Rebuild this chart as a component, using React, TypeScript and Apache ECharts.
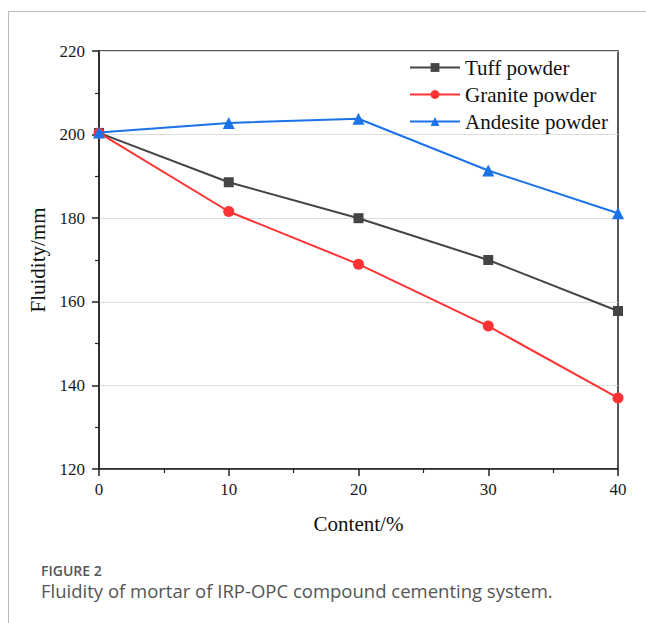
import React, { useEffect, useRef } from "react";
import * as echarts from "echarts";

const contents = [0, 10, 20, 30, 40];
const tuff = [200.4, 188.6, 180.0, 170.0, 157.8];
const granite = [200.4, 181.6, 169.0, 154.2, 137.0];
const andesite = [200.5, 202.8, 203.8, 191.4, 181.2];
const seriesNames = ["Tuff powder", "Granite powder", "Andesite powder"];
const figureLabel = "FIGURE 2";
const captionText = "Fluidity of mortar of IRP-OPC compound cementing system.";

const pair = (vals: number[]) => contents.map((c, i) => [c, vals[i]]);

export default function App() {
  const ref = useRef<HTMLDivElement>(null);
  useEffect(() => {
    if (!ref.current) return;
    const chart = echarts.init(ref.current, undefined, { renderer: "svg" });
    const serif = "'Liberation Serif', 'Times New Roman', serif";
    const axisCommon = {
      axisLine: { show: true, lineStyle: { color: "#222", width: 1.5 } },
      axisTick: { show: true, inside: false, length: 7, lineStyle: { color: "#222", width: 1.5 } },
      minorTick: { show: true, splitNumber: 2, length: 4, lineStyle: { color: "#222", width: 1.2 } },
      axisLabel: { fontFamily: serif, fontSize: 17, color: "#1a1a1a", margin: 14 },
    };
    chart.setOption({
      animation: false,
      backgroundColor: "#fff",
      grid: {
        left: 99,
        right: 28,
        top: 51,
        bottom: 154,
        show: true,
        borderColor: "#222",
        borderWidth: 1.5,
      },
      legend: {
        orient: "vertical",
        left: 404,
        top: 52,
        itemWidth: 50,
        itemHeight: 11,
        itemGap: 6,
        textStyle: { fontFamily: serif, fontSize: 21, color: "#111" },
        data: seriesNames,
      },
      xAxis: {
        type: "value",
        min: 0,
        max: 40,
        interval: 10,
        name: "Content/%",
        nameLocation: "middle",
        nameGap: 44,
        nameTextStyle: { fontFamily: serif, fontSize: 21, color: "#111" },
        ...axisCommon,
        axisLabel: { ...axisCommon.axisLabel, margin: 12 },
        splitLine: { show: false },
      },
      yAxis: {
        type: "value",
        min: 120,
        max: 220,
        interval: 20,
        name: "Fluidity/mm",
        nameLocation: "middle",
        nameGap: 44,
        nameTextStyle: { fontFamily: serif, fontSize: 21, color: "#111" },
        ...axisCommon,
        splitLine: { show: true, lineStyle: { color: "#dcdcdc", width: 1 } },
      },
      series: [
        {
          name: seriesNames[0],
          type: "line",
          data: pair(tuff),
          symbol: "rect",
          symbolSize: 10,
          itemStyle: { color: "#444444" },
          lineStyle: { color: "#444444", width: 2 },
          z: 3,
        },
        {
          name: seriesNames[1],
          type: "line",
          data: pair(granite),
          symbol: "circle",
          symbolSize: 11,
          itemStyle: { color: "#ff3333" },
          lineStyle: { color: "#ff3333", width: 2 },
          z: 4,
        },
        {
          name: seriesNames[2],
          type: "line",
          data: pair(andesite),
          symbol: "triangle",
          symbolSize: 12,
          itemStyle: { color: "#1a73e8" },
          lineStyle: { color: "#1a73e8", width: 2 },
          z: 5,
        },
      ],
      graphic: [
        {
          type: "line",
          shape: { x1: 8, y1: 11.5, x2: 646, y2: 11.5 },
          style: { stroke: "#bbbbbb", lineWidth: 1 },
        },
        {
          type: "line",
          shape: { x1: 8.5, y1: 11, x2: 8.5, y2: 623 },
          style: { stroke: "#bbbbbb", lineWidth: 1 },
        },
        {
          type: "text",
          left: 41,
          top: 563,
          style: {
            text: figureLabel,
            fontFamily: "'Open Sans', sans-serif",
            fontSize: 14,
            fontWeight: 600,
            fill: "#555",
          },
        },
        {
          type: "text",
          left: 41,
          top: 581,
          style: {
            text: captionText,
            fontFamily: "'Open Sans', sans-serif",
            fontSize: 18.5,
            fill: "#555",
          },
        },
      ],
    });
    return () => chart.dispose();
  }, []);
  return (
    <div
      ref={ref}
      style={{ position: "fixed", left: 0, top: 0, width: 646, height: 623 }}
    />
  );
}
